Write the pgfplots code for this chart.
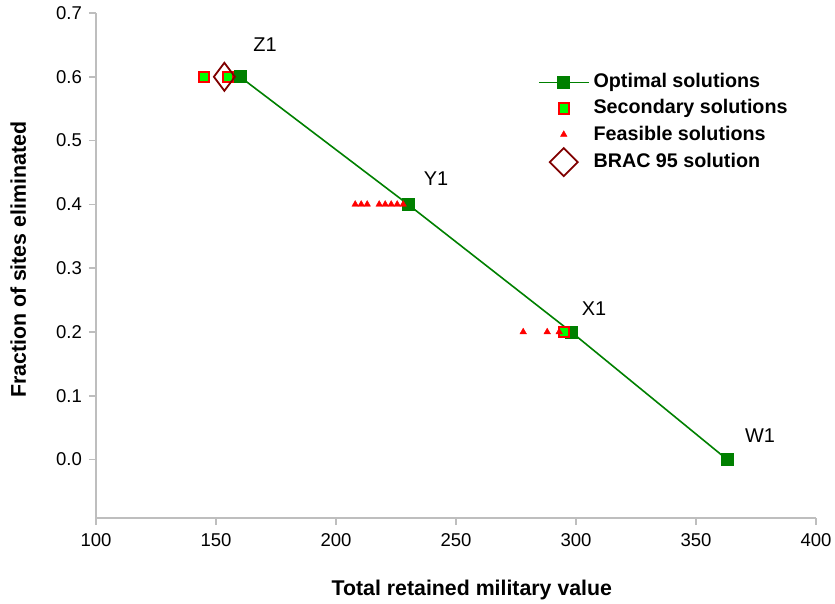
\documentclass[border=0pt]{standalone}
\usepackage{fontspec}
\setmainfont{Liberation Sans}
\usepackage{pgfplots}
\pgfplotsset{compat=1.18}
\definecolor{axgray}{RGB}{190,190,190}
\definecolor{optgreen}{RGB}{0,128,0}
\definecolor{lime}{RGB}{0,255,0}
\definecolor{bracred}{RGB}{128,0,0}
\begin{document}
\begin{tikzpicture}
\begin{axis}[
  scale only axis,
  width=360bp, height=252.5bp,
  xmin=100, xmax=400, ymin=-0.0916, ymax=0.7,
  enlargelimits=false,
  axis lines*=left,
  axis line style={axgray, line width=0.8bp},
  tick style={axgray, line width=0.8bp},
  tick align=outside,
  major tick length=3.5bp,
  xtick={100,150,...,400},
  ytick={0,0.1,...,0.7},
  /pgf/number format/assume math mode=true,
  yticklabel style={/pgf/number format/.cd, fixed, fixed zerofill, precision=1},
  ticklabel style={font=\fontsize{9.3}{11}\selectfont, black},
  xticklabel style={yshift=-1bp},
  xlabel={\textbf{Total retained military value}},
  ylabel={\textbf{Fraction of sites eliminated}},
  label style={font=\fontsize{10.7}{12}\selectfont},
  xlabel style={at={(axis description cs:0.522,-0.1426)}, anchor=center},
  ylabel style={at={(axis description cs:-0.108,0.511)}, anchor=center},
  legend style={at={(axis description cs:0.605,0.898)}, anchor=north west, draw=none, fill=none,
    font=\bfseries\fontsize{9.9}{11}\selectfont, row sep=-0.4bp,
    nodes={text height=0.75em, text depth=0.2em}},
  legend cell align=left,
  legend image code/.code={\draw[mark repeat=2,mark phase=2,#1] plot coordinates {(0bp,0bp) (12.5bp,0bp) (25bp,0bp)};},
  clip=false,
]
\addplot[color=optgreen, line width=0.8bp, mark=square*, mark size=3bp, mark options={fill=optgreen, draw=optgreen, line width=0.3bp}]
  coordinates {(160,0.6) (230,0.4) (298,0.2) (363,0)};
\addlegendentry{Optimal solutions}
\addplot[only marks, mark=square*, mark size=2.6bp, mark options={fill=lime, draw=red, line width=1bp}]
  coordinates {(145,0.6) (155,0.6) (295,0.2)};
\addlegendentry{Secondary solutions}
\addplot[only marks, mark=triangle*, mark size=1.9bp, mark options={fill=red, draw=red, line width=0.2bp}]
  coordinates {(208,0.4) (210.5,0.4) (213,0.4) (218,0.4) (220.5,0.4) (223,0.4) (225.5,0.4) (228,0.4)
               (278,0.2) (288,0.2) (293,0.2)};
\addlegendentry{Feasible solutions}
\addplot[only marks, mark=diamond, mark size=7bp, mark options={draw=bracred, line width=0.9bp},
  legend image code/.code={\draw[draw=bracred, line width=0.9bp] (12.5bp,7bp) -- (19.5bp,0bp) -- (12.5bp,-7bp) -- (5.5bp,0bp) -- cycle;}]
  coordinates {(153.5,0.6)};
\addlegendentry{BRAC 95 solution}
\node[font=\fontsize{10}{12}\selectfont] at (axis cs:170.4,0.65) {Z1};
\node[font=\fontsize{10}{12}\selectfont] at (axis cs:241.7,0.441) {Y1};
\node[font=\fontsize{10}{12}\selectfont] at (axis cs:307.5,0.236) {X1};
\node[font=\fontsize{10}{12}\selectfont] at (axis cs:376.7,0.038) {W1};
\end{axis}
\pgfresetboundingbox
\path[use as bounding box] (-48bp,-43bp) rectangle (369.5bp,259bp);
\end{tikzpicture}
\end{document}
